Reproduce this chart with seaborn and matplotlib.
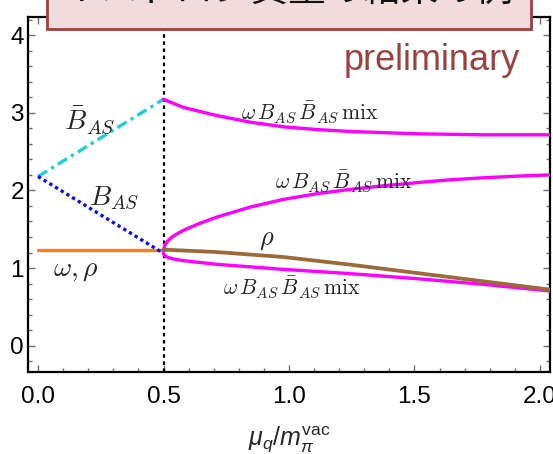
import matplotlib
matplotlib.use("Agg")
import matplotlib.pyplot as plt
import pandas as pd
import seaborn as sns
from matplotlib.patches import Rectangle
from matplotlib.ticker import MultipleLocator

# Vacuum side (mu_q/m_pi < 0.5)
mu_vac = [0.0, 0.5]
omega_rho_vac = [1.228, 1.228]
bbar_as_vac = [2.18, 3.175]
b_as_vac = [2.18, 1.19]

# Mixed omega / B_AS / Bbar_AS branches above the onset
mu_upper = [0.5, 0.579, 0.712, 0.845, 0.977, 1.110, 1.243, 1.509, 1.774, 2.04]
mix_upper = [3.175, 3.07, 2.965, 2.88, 2.82, 2.785, 2.76, 2.73, 2.717, 2.717]

mu_middle = [0.5, 0.505, 0.515, 0.53, 0.55, 0.579, 0.64, 0.712, 0.845, 0.977,
             1.110, 1.243, 1.376, 1.509, 1.641, 1.774, 1.907, 2.04]
mix_middle = [1.228, 1.29, 1.34, 1.39, 1.433, 1.485, 1.57, 1.656, 1.785, 1.884,
              1.957, 2.013, 2.06, 2.10, 2.137, 2.163, 2.184, 2.20]

mu_lower = [0.5, 0.505, 0.515, 0.53, 0.55, 0.579, 0.712, 0.977, 1.243, 1.509, 1.774, 2.04]
mix_lower = [1.19, 1.16, 1.14, 1.125, 1.11, 1.095, 1.048, 0.983, 0.928, 0.863, 0.79, 0.704]

# rho above the onset
mu_rho = [0.5, 0.712, 0.977, 1.243, 1.509, 1.774, 2.04]
rho_mass = [1.237, 1.206, 1.142, 1.044, 0.936, 0.829, 0.722]

x_ticks = [0.0, 0.5, 1.0, 1.5, 2.0]
x_tick_labels = ["0.0", "0.5", "1.0", "1.5", "2.0"]
y_ticks = [0, 1, 2, 3, 4]

title_text = "Ⅰハドロン質量の結果の例"

sns.set_theme(style="ticks")
plt.rcParams["font.family"] = ["Liberation Sans", "Noto Sans CJK JP", "DejaVu Sans"]
plt.rcParams["mathtext.fontset"] = "cm"
plt.rcParams["mathtext.rm"] = "Liberation Sans"
plt.rcParams["mathtext.it"] = "Liberation Sans:italic"

fig = plt.figure(figsize=(5.53, 4.54), dpi=100)
ax = fig.add_axes([0.0506, 0.1806, 0.944, 0.7828])

MAGENTA = "#ff00ff"
BROWN = "#9b6a37"
ORANGE = "#ff7f0e"
CYAN = "#1ad3d8"
BLUE = "#0a0aff"

ax.axvline(0.5, color="black", lw=1.6, linestyle=(0, (1.6, 1.6)), zorder=1)

sns.lineplot(x=mu_vac, y=omega_rho_vac, ax=ax, color=ORANGE, lw=2.4, zorder=3)
sns.lineplot(x=mu_vac, y=bbar_as_vac, ax=ax, color=CYAN, lw=2.4,
             linestyle=(0, (3.2, 1.4, 1.0, 1.4)), zorder=3)
sns.lineplot(x=mu_vac, y=b_as_vac, ax=ax, color=BLUE, lw=2.4,
             linestyle=(0, (1.0, 1.0)), zorder=3)

sns.lineplot(x=mu_upper, y=mix_upper, ax=ax, color=MAGENTA, lw=2.4, zorder=3)
sns.lineplot(x=mu_middle, y=mix_middle, ax=ax, color=MAGENTA, lw=2.4, zorder=3)
sns.lineplot(x=mu_lower, y=mix_lower, ax=ax, color=MAGENTA, lw=2.4, zorder=3)
sns.lineplot(x=mu_rho, y=rho_mass, ax=ax, color=BROWN, lw=2.7, zorder=4)

ax.set_xlim(-0.04, 2.04)
ax.set_ylim(-0.34, 4.24)
ax.set_xticks(x_ticks)
ax.set_xticklabels(x_tick_labels)
ax.set_yticks(y_ticks)
ax.xaxis.set_minor_locator(MultipleLocator(0.1))
ax.yaxis.set_minor_locator(MultipleLocator(0.2))
ax.tick_params(which="both", direction="in", top=True, right=True,
               color="#707070", width=1.0)
ax.tick_params(which="major", length=5, labelsize=17.5, labelcolor="black")
ax.tick_params(which="minor", length=3)
ax.tick_params(axis="x", which="major", pad=10)
ax.tick_params(axis="y", which="major", pad=3)
for side in ax.spines.values():
    side.set_linewidth(1.6)
    side.set_color("black")
ax.grid(False)

ax.set_xlabel(r"$\mu_q/m_\pi^{\mathrm{vac}}$", fontsize=18,
              math_fontfamily="custom", labelpad=12)
ax.set_ylabel("")

ax.text(0.207, 2.91, r"$\bar{B}_{AS}$", fontsize=20, ha="center", va="center")
ax.text(0.303, 1.90, r"$B_{AS}$", fontsize=20, ha="center", va="center")
ax.text(0.153, 0.97, r"$\omega,\rho$", fontsize=20, ha="center", va="center")
ax.text(0.91, 1.36, r"$\rho$", fontsize=19, ha="center", va="center")
mix = r"$\omega\,B_{AS}\,\bar{B}_{AS}\,\mathrm{mix}$"
ax.text(1.084, 3.01, mix, fontsize=15.5, ha="center", va="center")
ax.text(1.216, 2.116, mix, fontsize=15.5, ha="center", va="center")
ax.text(1.011, 0.755, mix, fontsize=15.5, ha="center", va="center")

ax.text(1.57, 3.67, "preliminary", fontsize=26, color="#a0403c",
        ha="center", va="center")

# Heading panel across the top edge
fig.patches.append(Rectangle((47 / 553, 1 - 29 / 454), (531 - 47) / 553, 0.2,
                             transform=fig.transFigure, facecolor="#f2dcdb",
                             edgecolor="#a0403c", lw=2.0, zorder=10))
fig.text(63 / 553, 1 - 1.0 / 454, title_text, fontsize=27, color="#111111",
         ha="left", va="baseline", family=["Noto Sans CJK JP", "DejaVu Sans"],
         zorder=11)

fig.savefig("out.png", dpi=100)
